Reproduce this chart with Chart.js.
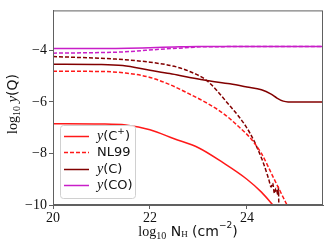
<!DOCTYPE html>
<html>
<head>
<meta charset="utf-8">
<script src="https://cdn.jsdelivr.net/npm/chart.js@4/dist/chart.umd.min.js"></script>
<style>
  html, body { margin: 0; padding: 0; background: #fff; }
  #wrap { width: 324px; height: 248px; position: relative; }
</style>
</head>
<body>
<div id="wrap"><canvas id="myChart" width="324" height="248"></canvas></div>
<script>
// 데이터 (log10 N_H, log10 y)
const xCplus = [20, 21, 21.5, 22, 22.5, 23, 23.5, 24, 24.3, 24.56];
const yCplus = [-6.85, -6.86, -6.9, -7.08, -7.43, -7.78, -8.35, -9.0, -9.5, -10.05];

const xNLCplus = [20, 21, 21.5, 22, 22.4, 22.8, 23.2, 23.55, 23.86, 24.06, 24.3, 24.55, 24.84];
const yNLCplus = [-4.81, -4.82, -4.88, -5.05, -5.32, -5.68, -6.07, -6.5, -7.01, -7.38, -8.0, -8.95, -10.05];

const xC = [20, 21, 21.44, 22, 22.41, 22.82, 23.17, 23.65, 24, 24.3, 24.5, 24.62, 24.75, 24.85, 25.6];
const yC = [-4.54, -4.55, -4.59, -4.77, -4.9, -5.05, -5.17, -5.3, -5.42, -5.53, -5.7, -5.85, -5.97, -6.0, -6.0];

const xNLC = [20, 21.3, 22, 22.5, 22.82, 23.17, 23.58, 24.06, 24.33, 24.45, 24.5, 24.53, 24.57, 24.6, 24.64, 24.65, 24.66];
const yNLC = [-4.24, -4.34, -4.46, -4.62, -4.82, -5.17, -6.0, -7.2, -8.32, -9.0, -9.3, -9.15, -9.55, -9.35, -9.6, -9.3, -10.2];

const xCO = [20, 21, 22, 22.5, 23, 25.6];
const yCO = [-3.93, -3.93, -3.9, -3.87, -3.85, -3.85];

const xNLCO = [20, 21.44, 22.2, 22.82, 23.1, 25.6];
const yNLCO = [-4.11, -4.06, -3.96, -3.89, -3.86, -3.85];

const xTicks = [20, 22, 24];
const yTicks = [-10, -8, -6, -4];

const RED = 'rgb(255,25,25)';
const DARK = 'rgb(130,0,0)';
const MAG = 'rgb(200,30,200)';

const pts = (xs, ys) => xs.map((x, i) => ({ x: x, y: ys[i] }));

function ds(xs, ys, color, dashed) {
    return {
        data: pts(xs, ys),
        borderColor: color,
        borderWidth: 1.5,
        borderDash: dashed ? [4, 2] : [],
        pointRadius: 0,
        fill: false,
        cubicInterpolationMode: 'monotone'
    };
}

// 여러 폰트가 섞인 텍스트 그리기
function richWidth(ctx, segs) {
    let w = 0;
    segs.forEach(s => { ctx.font = s.font; w += ctx.measureText(s.t).width; });
    return w;
}
function drawRich(ctx, segs, x, y) {
    let cx = x - richWidth(ctx, segs) / 2;
    segs.forEach(s => {
        ctx.font = s.font;
        ctx.fillText(s.t, cx, y + (s.dy || 0));
        cx += ctx.measureText(s.t).width;
    });
}

const SERIF = '"Liberation Serif", serif';
const SANS = '"DejaVu Sans", sans-serif';

const legendItems = [
    { segs: [{ t: 'y', font: 'italic 14px ' + SERIF }, { t: '(C', font: '13px ' + SANS }, { t: '+', font: '9px ' + SANS, dy: -5 }, { t: ')', font: '13px ' + SANS }], color: RED, dashed: false },
    { segs: [{ t: 'NL99', font: '13px ' + SANS }], color: RED, dashed: true },
    { segs: [{ t: 'y', font: 'italic 14px ' + SERIF }, { t: '(C)', font: '13px ' + SANS }], color: DARK, dashed: false },
    { segs: [{ t: 'y', font: 'italic 14px ' + SERIF }, { t: '(CO)', font: '13px ' + SANS }], color: MAG, dashed: false }
];

const decor = {
    id: 'decor',
    afterDraw(chart) {
        const ctx = chart.ctx;
        const a = chart.chartArea;
        ctx.save();
        // 테두리
        ctx.strokeStyle = '#606060';
        ctx.lineWidth = 1;
        ctx.strokeRect(a.left + 0.5, a.top + 0.5, a.right - a.left - 1, a.bottom - a.top - 1);

        // 범례
        const lx = 60, ly = 125, lw = 75, lh = 73;
        ctx.beginPath();
        ctx.roundRect(lx + 0.5, ly + 0.5, lw, lh, 3);
        ctx.fillStyle = 'rgba(255,255,255,0.85)';
        ctx.fill();
        ctx.strokeStyle = '#d0d0d0';
        ctx.stroke();
        const rows = [136.5, 152.5, 169.5, 185.5];
        legendItems.forEach((it, i) => {
            ctx.beginPath();
            ctx.strokeStyle = it.color;
            ctx.lineWidth = 1.5;
            ctx.setLineDash(it.dashed ? [4, 2] : []);
            ctx.moveTo(64, rows[i]);
            ctx.lineTo(89, rows[i]);
            ctx.stroke();
            ctx.setLineDash([]);
            ctx.fillStyle = '#111';
            ctx.textBaseline = 'middle';
            let cx = 97;
            it.segs.forEach(s => {
                ctx.font = s.font;
                ctx.fillText(s.t, cx, rows[i] + (s.dy || 0));
                cx += ctx.measureText(s.t).width;
            });
        });

        // 축 제목
        ctx.fillStyle = '#111';
        ctx.textBaseline = 'middle';
        drawRich(ctx, [
            { t: 'log', font: '14px ' + SERIF },
            { t: '10', font: '10px ' + SERIF, dy: 4 },
            { t: ' N', font: '14px ' + SANS },
            { t: 'H', font: '9px ' + SERIF, dy: 3 },
            { t: ' (cm', font: '14px ' + SANS },
            { t: '\u22122', font: '9px ' + SANS, dy: -6 },
            { t: ')', font: '14px ' + SANS }
        ], 188, 232);

        ctx.translate(13, 104);
        ctx.rotate(-Math.PI / 2);
        drawRich(ctx, [
            { t: 'log', font: '14px ' + SERIF },
            { t: '10', font: '10px ' + SERIF, dy: 4 },
            { t: ' ', font: '14px ' + SERIF },
            { t: 'y', font: 'italic 15px ' + SERIF },
            { t: '(Q)', font: '14px ' + SANS }
        ], 0, 0);
        ctx.restore();
    }
};

const ctx = document.getElementById('myChart').getContext('2d');

const chart = new Chart(ctx, {
    type: 'line',
    data: {
        datasets: [
            ds(xCplus, yCplus, RED, false),
            ds(xNLCplus, yNLCplus, RED, true),
            ds(xC, yC, DARK, false),
            ds(xNLC, yNLC, DARK, true),
            ds(xCO, yCO, MAG, false),
            ds(xNLCO, yNLCO, MAG, true)
        ]
    },
    options: {
        responsive: false,
        animation: false,
        layout: { padding: { top: 3, right: 1, left: 0, bottom: 0 } },
        plugins: { legend: { display: false }, tooltip: { enabled: false } },
        scales: {
            x: {
                type: 'linear',
                min: 20,
                max: 25.57,
                afterBuildTicks: s => { s.ticks = xTicks.map(v => ({ value: v })); },
                afterFit: s => { s.height = 43; },
                grid: { drawOnChartArea: false, drawTicks: true, tickLength: 4, color: '#606060' },
                border: { display: true, color: '#606060' },
                ticks: {
                    color: '#111',
                    padding: 1,
                    maxRotation: 0,
                    font: { family: 'Liberation Serif', size: 14 },
                    callback: v => String(v)
                }
            },
            y: {
                type: 'linear',
                min: -10,
                max: -2.45,
                afterBuildTicks: s => { s.ticks = yTicks.map(v => ({ value: v })); },
                afterFit: s => { s.width = 53; },
                grid: { drawOnChartArea: false, drawTicks: true, tickLength: 4, color: '#606060' },
                border: { display: true, color: '#606060' },
                ticks: {
                    color: '#111',
                    padding: 2,
                    font: { family: 'Liberation Serif', size: 14 },
                    callback: v => String(v).replace('-', '\u2212')
                }
            }
        }
    },
    plugins: [decor]
});
</script>
</body>
</html>
